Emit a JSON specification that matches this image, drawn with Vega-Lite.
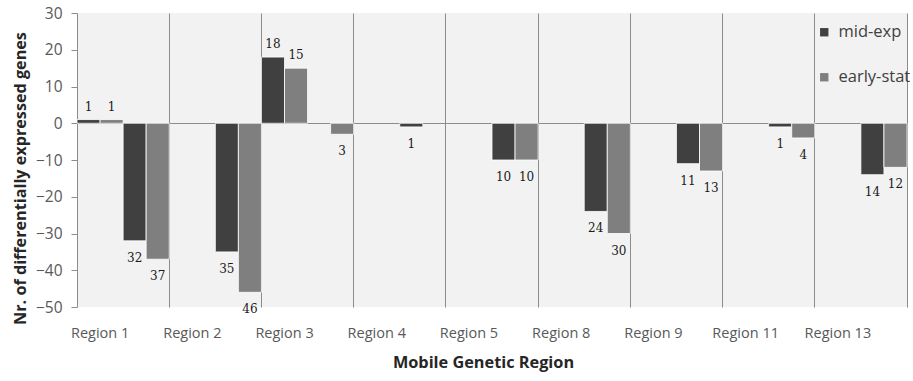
{
  "$schema": "https://vega.github.io/schema/vega-lite/v6.json",
  "width": 830,
  "height": 294,
  "autosize": {"type": "none"},
  "padding": {"left": 77, "top": 13, "right": 6, "bottom": 74},
  "background": "#ffffff",
  "config": {
    "view": {"fill": "#f2f2f2", "stroke": null},
    "font": "Open Sans"
  },
  "data": {
    "values": [
      {"region": "Region 1", "series": "mid-exp", "direction": "up", "genes": 1},
      {"region": "Region 1", "series": "early-stat", "direction": "up", "genes": 1},
      {"region": "Region 1", "series": "mid-exp", "direction": "down", "genes": -32},
      {"region": "Region 1", "series": "early-stat", "direction": "down", "genes": -37},
      {"region": "Region 2", "series": "mid-exp", "direction": "down", "genes": -35},
      {"region": "Region 2", "series": "early-stat", "direction": "down", "genes": -46},
      {"region": "Region 3", "series": "mid-exp", "direction": "up", "genes": 18},
      {"region": "Region 3", "series": "early-stat", "direction": "up", "genes": 15},
      {"region": "Region 3", "series": "early-stat", "direction": "down", "genes": -3},
      {"region": "Region 4", "series": "mid-exp", "direction": "down", "genes": -1},
      {"region": "Region 5", "series": "mid-exp", "direction": "down", "genes": -10},
      {"region": "Region 5", "series": "early-stat", "direction": "down", "genes": -10},
      {"region": "Region 8", "series": "mid-exp", "direction": "down", "genes": -24},
      {"region": "Region 8", "series": "early-stat", "direction": "down", "genes": -30},
      {"region": "Region 9", "series": "mid-exp", "direction": "down", "genes": -11},
      {"region": "Region 9", "series": "early-stat", "direction": "down", "genes": -13},
      {"region": "Region 11", "series": "mid-exp", "direction": "down", "genes": -1},
      {"region": "Region 11", "series": "early-stat", "direction": "down", "genes": -4},
      {"region": "Region 13", "series": "mid-exp", "direction": "down", "genes": -14},
      {"region": "Region 13", "series": "early-stat", "direction": "down", "genes": -12}
    ]
  },
  "transform": [
    {"calculate": "datum.direction + ' ' + datum.series", "as": "slot"},
    {"calculate": "abs(datum.genes)", "as": "count"}
  ],
  "encoding": {
    "x": {
      "field": "region",
      "type": "nominal",
      "sort": ["Region 1", "Region 2", "Region 3", "Region 4", "Region 5", "Region 8", "Region 9", "Region 11", "Region 13"],
      "scale": {"paddingInner": 0, "paddingOuter": 0},
      "axis": {
        "title": "Mobile Genetic Region",
        "titleFontSize": 16.3,
        "titleFontWeight": "bold",
        "titleColor": "#262626",
        "titlePadding": 15,
        "titleX": 406,
        "labelAngle": 0,
        "labelFontSize": 14.5,
        "labelColor": "#595959",
        "labelPadding": 19,
        "labelOffset": -23,
        "bandPosition": 1,
        "ticks": false,
        "domain": false,
        "grid": true,
        "gridColor": "#8c8c8c",
        "gridWidth": 1
      }
    },
    "xOffset": {
      "field": "slot",
      "type": "nominal",
      "scale": {
        "domain": ["up mid-exp", "up early-stat", "down mid-exp", "down early-stat"],
        "paddingInner": 0,
        "paddingOuter": 0
      }
    },
    "y": {
      "field": "genes",
      "type": "quantitative",
      "scale": {"domain": [-50, 30], "nice": false, "zero": true},
      "axis": {
        "title": "Nr. of differentially expressed genes",
        "titleFontSize": 16.2,
        "titleFontWeight": "bold",
        "titleColor": "#262626",
        "titlePadding": 7,
        "titleY": 165,
        "values": [-50, -40, -30, -20, -10, 0, 10, 20, 30],
        "labelOverlap": false,
        "labelFontSize": 15.5,
        "labelColor": "#595959",
        "labelPadding": 9,
        "grid": true,
        "gridColor": "#8c8c8c",
        "gridOpacity": {"condition": {"test": "datum.value === 0", "value": 1}, "value": 0},
        "domainColor": "#8c8c8c",
        "tickColor": "#8c8c8c",
        "tickSize": 6
      }
    }
  },
  "layer": [
    {
      "mark": {"type": "bar", "stroke": "#ffffff", "strokeWidth": 0.8},
      "encoding": {
        "color": {
          "field": "series",
          "type": "nominal",
          "scale": {"domain": ["mid-exp", "early-stat"], "range": ["#404040", "#7f7f7f"]},
          "legend": {
            "title": null,
            "orient": "none",
            "legendX": 739,
            "legendY": 11,
            "padding": 0,
            "symbolType": "square",
            "symbolSize": 70,
            "symbolStrokeWidth": 0,
            "labelFontSize": 16.5,
            "labelColor": "#404040",
            "rowPadding": 28,
            "labelOffset": 6
          }
        }
      }
    },
    {
      "transform": [{"filter": "datum.genes > 0"}],
      "mark": {"type": "text", "font": "DejaVu Serif", "fontSize": 12, "color": "#1a1a1a", "baseline": "alphabetic", "dy": -9},
      "encoding": {
        "text": {"field": "count", "type": "quantitative"}
      }
    },
    {
      "transform": [{"filter": "datum.genes < 0"}],
      "mark": {"type": "text", "font": "DejaVu Serif", "fontSize": 12, "color": "#1a1a1a", "baseline": "alphabetic", "dy": 21},
      "encoding": {
        "text": {"field": "count", "type": "quantitative"}
      }
    }
  ]
}
